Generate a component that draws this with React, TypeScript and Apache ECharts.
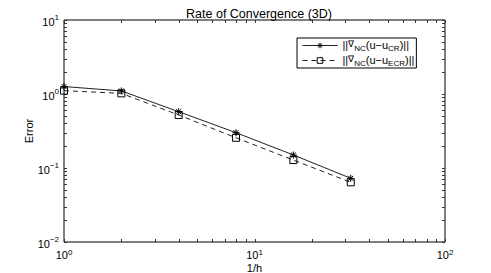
import React, { useEffect, useRef } from "react";
import * as echarts from "echarts";

const hInv = [1, 2, 4, 8, 16, 32];
const errCR = [1.26, 1.1, 0.577, 0.3, 0.15, 0.0726];
const errECR = [1.11, 1.02, 0.52, 0.256, 0.128, 0.064];
const xTickValues = [1, 2, 3, 4, 5, 6, 7, 8, 9, 10, 20, 30, 40, 50, 60, 70, 80, 90, 100];
const yTickValues = [
  0.01, 0.02, 0.03, 0.04, 0.05, 0.06, 0.07, 0.08, 0.09,
  0.1, 0.2, 0.3, 0.4, 0.5, 0.6, 0.7, 0.8, 0.9,
  1, 2, 3, 4, 5, 6, 7, 8, 9, 10,
];
const seriesNames = ["CR", "ECR"];

const FONT = "Liberation Sans, Arial, Helvetica, sans-serif";
const STAR = "path://M0,5L10,5M5,0L5,10M1.5,1.5L8.5,8.5M1.5,8.5L8.5,1.5";

function powLabel(v: number) {
  const e = Math.round(Math.log10(v));
  const s = e < 0 ? "\u2212" + Math.abs(e) : String(e);
  return "{b|10}{s|" + s + "}";
}

function powRich(lh: number) {
  return {
    b: { fontSize: 11, fontFamily: FONT, color: "#000", lineHeight: lh, verticalAlign: "bottom" },
    s: { fontSize: 8, fontFamily: FONT, color: "#000", lineHeight: lh, verticalAlign: "top" },
  };
}

export default function App() {
  const ref = useRef<HTMLDivElement>(null);
  useEffect(() => {
    if (!ref.current) return;
    const chart = echarts.init(ref.current, null, { renderer: "svg" });
    const L = 3;
    const option: any = {
      animation: false,
      backgroundColor: "#fff",
      title: {
        text: "Rate of Convergence (3D)",
        left: 254,
        textAlign: "center",
        top: 2,
        textStyle: { fontSize: 12.5, fontWeight: "normal", fontFamily: FONT, color: "#000" },
      },
      grid: {
        left: 64,
        right: 46,
        top: 20,
        bottom: 31,
        show: true,
        outerBoundsMode: "none",
        containLabel: false,
        borderColor: "#000",
        borderWidth: 1,
        backgroundColor: "#fff",
      },
      legend: {
        data: seriesNames,
        orient: "vertical",
        left: 297,
        top: 38,
        backgroundColor: "#fff",
        borderColor: "#000",
        borderWidth: 1,
        borderRadius: 0,
        padding: [1, 2, 1, 5],
        itemGap: 2,
        itemWidth: 35,
        itemHeight: 7,
        lineStyle: { width: 1 },
        itemStyle: { borderWidth: 1 },
        formatter: (name: string) =>
          "{t|||}{n|\u2207}{sub|NC}{t|(u\u2212u}{sub|" + name + "}{t|)||}",
        textStyle: {
          fontFamily: FONT,
          color: "#000",
          rich: {
            t: { fontSize: 11, fontFamily: FONT, color: "#000", lineHeight: 13, verticalAlign: "top" },
            n: { fontSize: 9, fontFamily: FONT, color: "#000", lineHeight: 13, verticalAlign: "top" },
            sub: { fontSize: 8, fontFamily: FONT, color: "#000", lineHeight: 13, verticalAlign: "bottom" },
          },
        },
      },
      xAxis: {
        type: "log",
        logBase: 10,
        min: 1,
        max: 100,
        name: "1/h",
        nameLocation: "middle",
        nameGap: 21,
        nameMoveOverlap: false,
        nameTextStyle: { fontSize: 11, fontFamily: FONT, color: "#000", lineHeight: 9 },
        axisLine: { show: false },
        axisTick: { show: false },
        splitLine: { show: false },
        minorTick: { show: false },
        axisLabel: {
          margin: 6,
          formatter: powLabel,
          rich: powRich(12),
        },
      },
      yAxis: {
        type: "log",
        logBase: 10,
        min: 0.01,
        max: 10,
        name: "Error",
        nameLocation: "middle",
        nameGap: 30,
        nameMoveOverlap: false,
        nameTextStyle: { fontSize: 11, fontFamily: FONT, color: "#000" },
        axisLine: { show: false },
        axisTick: { show: false },
        splitLine: { show: false },
        minorTick: { show: false },
        axisLabel: {
          margin: 5,
          formatter: powLabel,
          rich: powRich(14),
        },
      },
      series: [
        {
          type: "custom",
          name: "xticks",
          silent: true,
          z: 1,
          data: xTickValues.map((v) => [v, 1]),
          renderItem: (params: any, api: any) => {
            const p = api.coord([api.value(0), 1]);
            const cs = params.coordSys;
            const x = Math.round(p[0]) + 0.5;
            const yb = cs.y + cs.height;
            return {
              type: "group",
              children: [
                { type: "line", shape: { x1: x, y1: yb, x2: x, y2: yb - L }, style: { stroke: "#333", lineWidth: 1 } },
                { type: "line", shape: { x1: x, y1: cs.y, x2: x, y2: cs.y + L }, style: { stroke: "#333", lineWidth: 1 } },
              ],
            };
          },
        },
        {
          type: "custom",
          name: "yticks",
          silent: true,
          z: 1,
          data: yTickValues.map((v) => [1, v]),
          renderItem: (params: any, api: any) => {
            const p = api.coord([1, api.value(1)]);
            const cs = params.coordSys;
            const y = Math.round(p[1]) + 0.5;
            const xr = cs.x + cs.width;
            return {
              type: "group",
              children: [
                { type: "line", shape: { x1: cs.x, y1: y, x2: cs.x + L, y2: y }, style: { stroke: "#333", lineWidth: 1 } },
                { type: "line", shape: { x1: xr, y1: y, x2: xr - L, y2: y }, style: { stroke: "#333", lineWidth: 1 } },
              ],
            };
          },
        },
        {
          type: "line",
          name: seriesNames[0],
          data: hInv.map((x, i) => [x, errCR[i]]),
          symbol: STAR,
          symbolSize: 7,
          z: 3,
          lineStyle: { color: "#222", width: 1, type: "solid" },
          itemStyle: { color: "#000", borderColor: "#000", borderWidth: 1 },
        },
        {
          type: "line",
          name: seriesNames[1],
          data: hInv.map((x, i) => [x, errECR[i]]),
          symbol: "rect",
          symbolSize: 7,
          z: 3,
          lineStyle: { color: "#222", width: 1, type: [5, 4] },
          itemStyle: { color: "rgba(255,255,255,0)", borderColor: "#000", borderWidth: 1 },
        },
      ],
    };
    chart.setOption(option);
    return () => chart.dispose();
  }, []);
  return (
    <div
      ref={ref}
      style={{ position: "fixed", left: 0, top: 0, width: 491, height: 273 }}
    />
  );
}
